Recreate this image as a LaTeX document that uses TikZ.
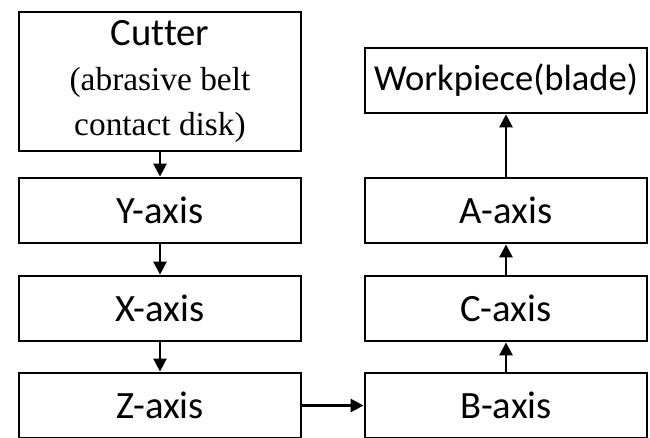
\documentclass[tikz,border=0pt]{standalone}
\usepackage{fontspec}
\setmainfont{Carlito}[Ligatures=NoCommon]
\newfontfamily\serifpart{Liberation Serif}
\usetikzlibrary{arrows.meta, positioning}

\begin{document}
\begin{tikzpicture}[
            box/.style={draw, line width=1.6pt, minimum width=5.64cm, minimum height=1.3cm, inner sep=0pt, font=\fontsize{22}{26}\selectfont},
            link/.style={line width=1.5pt, -{Triangle[length=0.26cm, width=0.26cm]}}]
            \useasboundingbox (0,0) rectangle (13,8.74);
            % left column
            \node[box, minimum height=2.78cm, align=center, font=\fontsize{22}{25.5}\selectfont] (cut) at (3.2,7.11)
                {Cutter\\ {\serifpart\fontsize{19}{25.5}\selectfont (abrasive belt}\\ {\serifpart\fontsize{19}{25.5}\selectfont contact disk)}};
            \node[box] (y) at (3.2,4.53) {Y-axis};
            \node[box] (x) at (3.2,2.57) {X-axis};
            \node[box] (z) at (3.2,0.63) {Z-axis};
            % right column
            \node[box, font=\fontsize{20.8}{24}\selectfont] (w) at (10.12,7.13) {Workpiece(blade)};
            \node[box] (a) at (10.12,4.53) {A-axis};
            \node[box] (c) at (10.12,2.57) {C-axis};
            \node[box] (b) at (10.12,0.63) {B-axis};
            \draw[link] (cut) -- (y);
            \draw[link] (y) -- (x);
            \draw[link] (x) -- (z);
            \draw[link] (z) -- (b);
            \draw[link] (b) -- (c);
            \draw[link] (c) -- (a);
            \draw[link] (a) -- (w);
        \end{tikzpicture}
\end{document}
